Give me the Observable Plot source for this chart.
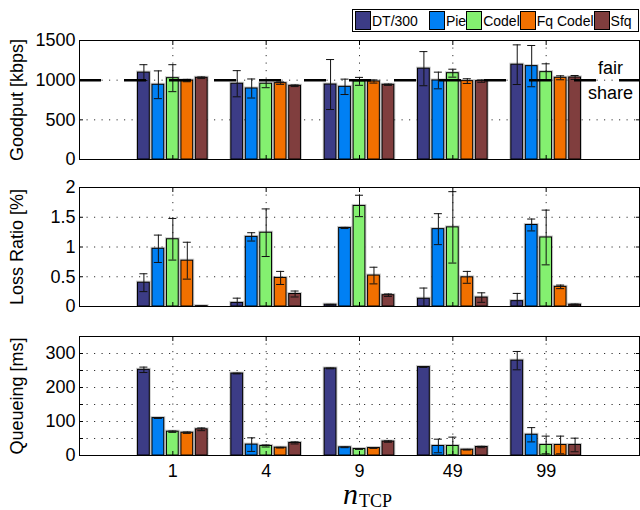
<!DOCTYPE html>
<html><head><meta charset="utf-8">
<script src="https://cdn.jsdelivr.net/npm/d3@7"></script>
<script src="https://cdn.jsdelivr.net/npm/@observablehq/plot@0.6"></script>
<style>
body{margin:0;background:#fff;}
#wrap{position:relative;width:640px;height:510px;font-family:"Liberation Sans",Arial,sans-serif;overflow:hidden;}
.panel{position:absolute;left:0;}
#legend{position:absolute;left:352px;top:9px;width:287px;height:23px;border:1px solid #000;box-sizing:border-box;background:#fff;display:flex;align-items:center;padding-left:2px;}
.sw{width:16px;height:19px;border:1px solid #000;box-sizing:border-box;flex:none;}
.lt{font-size:14px;margin-left:1px;white-space:nowrap;flex:none;}
#xlabel{position:absolute;left:343px;top:480px;font-family:"Liberation Serif","DejaVu Serif",serif;line-height:28px;white-space:nowrap;}
#xlabel .n{font-style:italic;font-size:30px;}
#xlabel .sub{font-size:18px;position:relative;top:3px;margin-left:1px;}
</style></head>
<body>
<div id="wrap">
  <div id="p1" class="panel" style="top:0px"></div>
  <div id="p2" class="panel" style="top:170px"></div>
  <div id="p3" class="panel" style="top:310px"></div>
  <div id="legend"></div>
  <div id="xlabel"><span class="n">n</span><span class="sub">TCP</span></div>
</div>
<script>
const categories = ["1", "4", "9", "49", "99"];
const series = ["DT/300", "Pie", "Codel", "Fq Codel", "Sfq"];
const colors = ["#3c3c86", "#0080f4", "#84f070", "#f27000", "#803e3e"];

// Goodput [kbps], rows = series, columns = categories
const goodputMean = [
  [1095, 955, 945, 1145, 1195],
  [942, 895, 916, 996, 1177],
  [1025, 955, 985, 1088, 1101],
  [995, 962, 983, 988, 1030],
  [1030, 929, 942, 988, 1034]
];
const goodputErr = [
  [100, 165, 315, 215, 250],
  [175, 120, 97, 105, 260],
  [170, 50, 50, 50, 105],
  [15, 15, 20, 30, 25],
  [10, 10, 8, 15, 25]
];
const fairShare = [1000];

// Loss ratio [%]
const lossMean = [
  [0.40, 0.06, 0.03, 0.13, 0.09],
  [0.97, 1.17, 1.32, 1.30, 1.37],
  [1.13, 1.24, 1.69, 1.33, 1.16],
  [0.77, 0.48, 0.52, 0.49, 0.33],
  [0.005, 0.21, 0.19, 0.15, 0.03]
];
const lossErr = [
  [0.15, 0.08, 0.005, 0.18, 0.13],
  [0.23, 0.07, 0.01, 0.26, 0.10],
  [0.35, 0.40, 0.18, 0.60, 0.46],
  [0.31, 0.11, 0.14, 0.10, 0.03],
  [0.0, 0.05, 0.02, 0.08, 0.01]
];

// Queueing delay [ms]
const queueMean = [
  [252, 241, 256, 260, 279],
  [110, 32, 24, 28, 61],
  [70, 28, 19, 28, 31],
  [67, 23, 22, 17, 31],
  [77, 37, 41, 25, 31]
];
const queueErr = [
  [8, 1, 1, 1, 27],
  [1, 20, 1, 20, 21],
  [2, 3, 1, 26, 26],
  [2, 1, 1, 1, 26],
  [4, 3, 2, 2, 20]
];

const goodputTicks = [0, 500, 1000, 1500];
const lossTicks = [0, 0.5, 1, 1.5, 2];
const queueTicks = [0, 100, 200, 300];
const queueGrid = [50, 100, 150, 200, 250, 300];

const catPos = categories.map((c, i) => i + 1);
const STEP = 0.155, HALF = 0.063, CAP = 0.043;

function rows(mean, err) {
  const out = [];
  series.forEach((s, si) => categories.forEach((c, ci) => {
    const xc = ci + 1 + (si - 2) * STEP;
    const v = mean[si][ci], e = err[si][ci];
    out.push({s, xc, x1: xc - HALF, x2: xc + HALF, v, lo: v - e, hi: v + e});
  }));
  return out;
}

const FONT = '"Liberation Sans", Arial, sans-serif';

function panel(o) {
  const data = rows(o.mean, o.err);
  const dots = {stroke: "#333", strokeWidth: 1, strokeDasharray: "1.2,6.3"};
  const marks = [
    Plot.ruleY(o.gridY, dots),
    Plot.ruleX(catPos, dots),
    Plot.rect(data, {x1: "x1", x2: "x2", y1: 0, y2: "v", fill: "none", stroke: "#888", strokeWidth: 3, strokeOpacity: 0.45, clip: true}),
    Plot.rect(data, {x1: "x1", x2: "x2", y1: 0, y2: "v", fill: "s", stroke: "#000", strokeWidth: 1, clip: true}),
    Plot.ruleX(data, {x: "xc", y1: "lo", y2: "hi", stroke: "#111", strokeWidth: 1, clip: true}),
    Plot.ruleY(data, {y: "hi", x1: d => d.xc - CAP, x2: d => d.xc + CAP, stroke: "#111", strokeWidth: 1, clip: true}),
    Plot.ruleY(data, {y: "lo", x1: d => d.xc - CAP, x2: d => d.xc + CAP, stroke: "#111", strokeWidth: 1, clip: true}),
    ...(o.extra || []),
    Plot.frame({stroke: "#000", strokeWidth: 1}),
    Plot.axisY(o.ticks, {anchor: "left", tickSize: 0, tickPadding: 4, fontSize: 18, tickFormat: o.fmt || (d => String(d))}),
    Plot.axisY(o.inner, {anchor: "left", tickSize: -4, tickFormat: () => ""}),
    Plot.axisY(o.inner, {anchor: "right", tickSize: -4, tickFormat: () => ""}),
    Plot.axisX(catPos, {anchor: "top", tickSize: -4, tickFormat: () => ""}),
    Plot.axisX(catPos, {anchor: "bottom", tickSize: -4, tickFormat: () => ""}),
    Plot.text([o.label], {frameAnchor: "left", dx: -62, rotate: -90, fontSize: 18, textAnchor: "middle", lineAnchor: "middle", text: d => d})
  ];
  if (o.showX) {
    marks.push(Plot.axisX(catPos, {anchor: "bottom", tickSize: 0, tickPadding: 9, fontSize: 18, tickFormat: d => categories[d - 1]}));
  }
  return Plot.plot({
    width: 640, height: o.height,
    marginLeft: 79, marginRight: 1, marginTop: o.mt, marginBottom: o.mb,
    style: {fontFamily: FONT, fontSize: "18px", color: "#000", background: "transparent", overflow: "visible"},
    x: {type: "linear", domain: [0, 6], axis: null},
    y: {domain: o.domain, axis: null},
    color: {domain: series, range: colors},
    marks
  });
}

document.getElementById("p1").append(panel({
  mean: goodputMean, err: goodputErr, domain: [0, 1500], ticks: goodputTicks,
  gridY: [500, 1000], inner: goodputTicks, label: "Goodput [kbps]",
  height: 170, mt: 40, mb: 11,
  extra: [
    Plot.ruleY(fairShare, {stroke: "#000", strokeWidth: 2.5, strokeDasharray: "22,23"}),
    Plot.text(fairShare, {y: d => d, frameAnchor: "right", dx: -29, dy: -11.5, text: () => "fair", fontSize: 18, textAnchor: "middle", lineAnchor: "middle"}),
    Plot.text(fairShare, {y: d => d, frameAnchor: "right", dx: -29, dy: 12.8, text: () => "share", fontSize: 18, textAnchor: "middle", lineAnchor: "middle"})
  ]
}));

document.getElementById("p2").append(panel({
  mean: lossMean, err: lossErr, domain: [0, 2], ticks: lossTicks,
  gridY: [0.5, 1, 1.5], inner: lossTicks, label: "Loss Ratio [%]",
  height: 140, mt: 17, mb: 4
}));

document.getElementById("p3").append(panel({
  mean: queueMean, err: queueErr, domain: [0, 350], ticks: queueTicks,
  gridY: queueGrid, inner: queueGrid, label: "Queueing [ms]",
  height: 200, mt: 26, mb: 55, showX: true
}));

const legend = document.getElementById("legend");
series.forEach((s, i) => {
  const sw = document.createElement("div");
  sw.className = "sw";
  sw.style.background = colors[i];
  const t = document.createElement("div");
  t.className = "lt";
  t.textContent = s;
  t.style.marginRight = i === 0 ? "11px" : "0px";
  legend.append(sw, t);
});
</script>
</body></html>
